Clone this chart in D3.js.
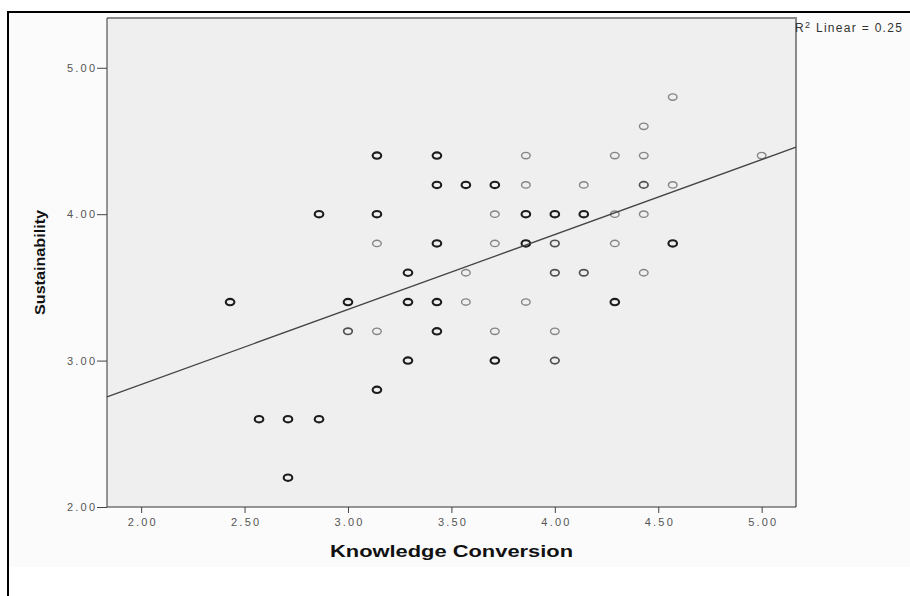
<!DOCTYPE html>
<html lang="en">
<head>
  <meta charset="UTF-8">
  <title>Knowledge Conversion vs Sustainability</title>
  <script src="https://d3js.org/d3.v7.min.js"></script>
  <style>
    body {
      margin: 0;
      padding: 0;
      background-color: #fff;
      font-family: 'Liberation Sans', Arial, sans-serif;
    }
    .tick text {
      font-size: 11px;
      fill: #555;
      letter-spacing: 2.2px;
    }
    .axis-title {
      font-weight: bold;
      fill: #111;
    }
  </style>
</head>
<body>
<div id="chart"></div>

<script>
// Scatter data (x = Knowledge Conversion, y = Sustainability, n = overlapping cases)
const knowledge = [2.43, 2.57, 2.71, 2.86, 2.71, 2.86, 3.00, 3.00,
  3.14, 3.14, 3.14, 3.14, 3.14, 3.29, 3.29, 3.29,
  3.43, 3.43, 3.43, 3.43, 3.43, 3.57, 3.57, 3.57,
  3.71, 3.71, 3.71, 3.71, 3.71, 3.86, 3.86, 3.86, 3.86, 3.86,
  4.00, 4.00, 4.00, 4.00, 4.00, 4.14, 4.14, 4.14,
  4.29, 4.29, 4.29, 4.29, 4.43, 4.43, 4.43, 4.43, 4.43,
  4.57, 4.57, 4.57, 5.00];
const sustainability = [3.4, 2.6, 2.6, 2.6, 2.2, 4.0, 3.4, 3.2,
  4.4, 4.0, 3.8, 3.2, 2.8, 3.6, 3.4, 3.0,
  4.4, 4.2, 3.8, 3.4, 3.2, 4.2, 3.6, 3.4,
  4.2, 4.0, 3.8, 3.2, 3.0, 4.4, 4.2, 4.0, 3.8, 3.4,
  4.0, 3.8, 3.6, 3.2, 3.0, 4.2, 4.0, 3.6,
  4.4, 4.0, 3.8, 3.4, 4.6, 4.4, 4.2, 4.0, 3.6,
  4.8, 4.2, 3.8, 4.4];
const overlap = [3, 3, 3, 3, 3, 3, 3, 2,
  3, 3, 1, 1, 3, 3, 3, 3,
  3, 3, 3, 3, 3, 3, 1, 1,
  3, 1, 1, 1, 3, 1, 1, 3, 3, 1,
  3, 2, 2, 1, 2, 1, 3, 2,
  1, 1, 1, 3, 1, 1, 2, 1, 1,
  1, 1, 3, 1];

const xTicks = [2.0, 2.5, 3.0, 3.5, 4.0, 4.5, 5.0];
const yTicks = [2.0, 3.0, 4.0, 5.0];

// Linear fit as reported in the chart
const fitIntercept = 1.813;
const fitSlope = 0.512;
const rSquared = "0.25";

const width = 910, height = 596;
const plot = {left: 107, right: 796, top: 18, bottom: 507};

const svg = d3.select("#chart").append("svg")
    .attr("width", width)
    .attr("height", height);

// outer frame + faint chart background
svg.append("rect")
    .attr("x", 9).attr("y", 13)
    .attr("width", width).attr("height", 554)
    .attr("fill", "#fbfbfb");
svg.append("rect")
    .attr("x", 8).attr("y", 12)
    .attr("width", width + 20).attr("height", height)
    .attr("fill", "none")
    .attr("stroke", "#000")
    .attr("stroke-width", 2);

const x = d3.scaleLinear().domain([1.835, 5.166]).range([plot.left, plot.right]);
const y = d3.scaleLinear().domain([2, 5.34]).range([plot.bottom, plot.top]);

// plot area
svg.append("rect")
    .attr("x", plot.left).attr("y", plot.top)
    .attr("width", plot.right - plot.left)
    .attr("height", plot.bottom - plot.top)
    .attr("fill", "#efefef");
// top and right edges are grey
svg.append("path")
    .attr("d", `M${plot.left},${plot.top}H${plot.right}V${plot.bottom}`)
    .attr("fill", "none")
    .attr("stroke", "#8a8a8a")
    .attr("stroke-width", 2);

// axes
const xAxis = svg.append("g")
    .attr("transform", `translate(0,${plot.bottom})`)
    .call(d3.axisBottom(x).tickValues(xTicks).tickFormat(d3.format(".2f"))
      .tickSize(6).tickPadding(5));
const yAxis = svg.append("g")
    .attr("transform", `translate(${plot.left},0)`)
    .call(d3.axisLeft(y).tickValues(yTicks).tickFormat(d3.format(".2f"))
      .tickSize(10).tickPadding(2));

xAxis.select(".domain").attr("stroke", "#333").attr("d", `M${plot.left},0H${plot.right}`);
yAxis.select(".domain").attr("stroke", "#333").attr("d", `M0,${plot.bottom}V${plot.top}`);
svg.selectAll(".tick line").attr("stroke", "#444");
xAxis.selectAll(".tick text").attr("dx", "1.1px");
yAxis.selectAll(".tick text").attr("dx", "2.2px");

// scatter points
const strokeColor = d3.scaleOrdinal().domain([1, 2, 3]).range(["#858585", "#505050", "#1c1c1c"]);
const strokeW = d3.scaleOrdinal().domain([1, 2, 3]).range([1.4, 1.7, 2.1]);

svg.append("g")
  .selectAll("ellipse")
  .data(knowledge.map((k, i) => ({k: k, s: sustainability[i], n: overlap[i]})))
  .enter().append("ellipse")
    .attr("cx", d => x(d.k))
    .attr("cy", d => y(d.s))
    .attr("rx", 4.3)
    .attr("ry", 3.2)
    .attr("fill", "none")
    .attr("stroke", d => strokeColor(d.n))
    .attr("stroke-width", d => strokeW(d.n));

// fit line
const xDom = x.domain();
svg.append("line")
    .attr("x1", x(xDom[0])).attr("y1", y(fitIntercept + fitSlope * xDom[0]))
    .attr("x2", x(xDom[1])).attr("y2", y(fitIntercept + fitSlope * xDom[1]))
    .attr("stroke", "#444")
    .attr("stroke-width", 1.3);

// R squared label
const r2 = svg.append("text")
    .attr("x", 795).attr("y", 32)
    .attr("font-size", "12px")
    .attr("fill", "#333")
    .attr("letter-spacing", "1.3px");
r2.append("tspan").text("R");
r2.append("tspan").attr("font-size", "9px").attr("dy", "-4").text("2");
r2.append("tspan").attr("dy", "4").text(" Linear = " + rSquared);

// axis titles
svg.append("text")
    .attr("class", "axis-title")
    .attr("x", (plot.left + plot.right) / 2)
    .attr("y", 557)
    .attr("text-anchor", "middle")
    .attr("font-size", "16px")
    .attr("textLength", 243)
    .attr("lengthAdjust", "spacingAndGlyphs")
    .text("Knowledge Conversion");

svg.append("text")
    .attr("class", "axis-title")
    .attr("transform", `translate(45,${(plot.top + plot.bottom) / 2}) rotate(-90)`)
    .attr("text-anchor", "middle")
    .attr("font-size", "15px")
    .attr("textLength", 105)
    .attr("lengthAdjust", "spacingAndGlyphs")
    .text("Sustainability");
</script>
</body>
</html>
